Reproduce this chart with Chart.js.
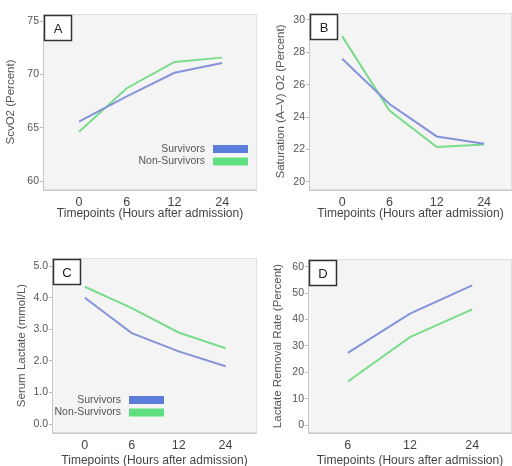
<!DOCTYPE html>
<html>
<head>
<meta charset="utf-8">
<script src="https://cdn.jsdelivr.net/npm/chart.js@4.4.0/dist/chart.umd.min.js"></script>
<style>
  body { margin: 0; background: #fff; }
  #wrap { position: relative; width: 512px; height: 466px; overflow: hidden; }
  canvas { position: absolute; }
</style>
</head>
<body>
<div id="wrap">
  <canvas id="panelA" style="left:0;top:0;width:257px;height:233px"></canvas>
  <canvas id="panelB" style="left:257px;top:0;width:255px;height:233px"></canvas>
  <canvas id="panelC" style="left:0;top:233px;width:257px;height:233px"></canvas>
  <canvas id="panelD" style="left:257px;top:233px;width:255px;height:233px"></canvas>
</div>
<script>
// Data
const seriesNames = ["Survivors", "Non-Survivors"];
const hoursABC = ["0", "6", "12", "24"];
const hoursD = ["6", "12", "24"];

const scvo2Survivors = [65.56, 67.93, 70.15, 71.07];
const scvo2NonSurvivors = [64.63, 68.7, 71.17, 71.57];

const satSurvivors = [27.6, 24.8, 22.8, 22.35];
const satNonSurvivors = [29.0, 24.4, 22.15, 22.3];

const lactateSurvivors = [4.0, 2.88, 2.3, 1.83];
const lactateNonSurvivors = [4.35, 3.67, 2.9, 2.4];

const removalSurvivors = [27.3, 42.2, 52.9];
const removalNonSurvivors = [16.5, 33.3, 43.8];

const ticksA = [60, 65, 70, 75];
const ticksB = [20, 22, 24, 26, 28, 30];
const ticksC = [0, 1, 2, 3, 4, 5];
const ticksD = [0, 10, 20, 30, 40, 50, 60];

const BLUE_LINE = "#8593d9";
const GREEN_LINE = "#79dc8c";
const BLUE_SWATCH = "#5b7ddb";
const GREEN_SWATCH = "#5fdf7f";
const FONT = "'Liberation Sans', Arial, sans-serif";

// Draws the grey plot background, the letter box and the in-plot legend
const panelDecor = {
  id: "panelDecor",
  beforeDraw(chart, args, opts) {
    const { ctx, chartArea: a } = chart;
    ctx.save();
    ctx.fillStyle = "#f4f4f4";
    ctx.fillRect(a.left, a.top, a.right - a.left, a.bottom - a.top);
    ctx.strokeStyle = "#e0e0e0";
    ctx.lineWidth = 1;
    ctx.strokeRect(a.left + 0.5, a.top + 0.5, a.right - a.left - 1, a.bottom - a.top - 1);
    ctx.restore();
  },
  afterDraw(chart, args, opts) {
    const { ctx, chartArea: a } = chart;
    ctx.save();
    // panel letter
    ctx.fillStyle = "#fff";
    ctx.fillRect(a.left + 1, a.top + 1, 28, 26);
    ctx.strokeStyle = "#333";
    ctx.lineWidth = 1.5;
    ctx.strokeRect(a.left + 1.5, a.top + 1.5, 27, 25);
    ctx.fillStyle = "#222";
    ctx.font = "13px " + FONT;
    ctx.textAlign = "center";
    ctx.textBaseline = "middle";
    ctx.fillText(opts.letter, a.left + 15, a.top + 15);

    // legend
    if (opts.legend) {
      const lg = opts.legend;
      ctx.font = "10.5px " + FONT;
      ctx.textAlign = "right";
      chart.data.datasets.forEach((ds, i) => {
        const cy = lg.y + i * 12.5;
        ctx.fillStyle = ds.swatch;
        ctx.fillRect(lg.x, cy - 4, 35, 8);
        ctx.fillStyle = "#555";
        ctx.fillText(ds.label, lg.x - 8, cy);
      });
    }
    ctx.restore();
  }
};

function makePanel(id, cfg) {
  const canvas = document.getElementById(id);
  canvas.width = parseInt(canvas.style.width);
  canvas.height = parseInt(canvas.style.height);

  const datasets = [
    { label: seriesNames[0], data: cfg.survivors, borderColor: BLUE_LINE, swatch: BLUE_SWATCH },
    { label: seriesNames[1], data: cfg.nonSurvivors, borderColor: GREEN_LINE, swatch: GREEN_SWATCH }
  ].map((ds) => ({
    ...ds,
    data: ds.data.map((v, i) => ({ x: i, y: v })),
    borderWidth: 2,
    pointRadius: 0,
    tension: 0,
    fill: false
  }));

  return new Chart(canvas.getContext("2d"), {
    type: "line",
    data: { datasets },
    options: {
      responsive: false,
      animation: false,
      layout: { padding: { top: cfg.padTop, left: 0, right: 0, bottom: 0 } },
      plugins: {
        legend: { display: false },
        tooltip: { enabled: false },
        panelDecor: { letter: cfg.letter, legend: cfg.legend }
      },
      scales: {
        x: {
          type: "linear",
          min: cfg.xMin,
          max: cfg.xMax,
          afterBuildTicks: (scale) => {
            scale.ticks = cfg.labels.map((l, i) => ({ value: i }));
          },
          afterFit: (scale) => { scale.height = cfg.xHeight; },
          ticks: {
            callback: (v) => cfg.labels[v],
            color: "#444",
            font: { size: 12.5, family: FONT },
            padding: 5,
            maxRotation: 0
          },
          grid: { display: false, drawTicks: false },
          border: { display: true, color: "#c8c8c8" },
          title: {
            display: true,
            text: "Timepoints (Hours after admission)",
            color: "#444",
            font: { size: 12, family: FONT },
            padding: { top: 0, bottom: cfg.xTitlePad }
          }
        },
        y: {
          min: cfg.yMin,
          max: cfg.yMax,
          afterBuildTicks: (scale) => {
            scale.ticks = cfg.yTicks.map((v) => ({ value: v }));
          },
          afterFit: (scale) => { scale.width = cfg.yWidth; },
          ticks: {
            callback: cfg.yFormat || ((v) => v),
            color: "#555",
            font: { size: 10.5, family: FONT },
            padding: 1
          },
          grid: { display: true, drawOnChartArea: false, drawTicks: true, tickLength: 3, color: "#bbb" },
          border: { display: true, color: "#c8c8c8" },
          title: {
            display: true,
            text: cfg.yTitle,
            color: "#555",
            font: { size: 11.5, family: FONT },
            padding: { top: cfg.yTitlePad, bottom: 0 }
          }
        }
      }
    },
    plugins: [panelDecor]
  });
}

makePanel("panelA", {
  letter: "A", labels: hoursABC, survivors: scvo2Survivors, nonSurvivors: scvo2NonSurvivors,
  yTitle: "ScvO2 (Percent)", yTicks: ticksA, yMin: 59.16, yMax: 75.66,
  xMin: -0.755, xMax: 3.73, padTop: 14, yWidth: 43, xHeight: 43,
  xTitlePad: 12, yTitlePad: 4,
  legend: { x: 213, y: 149 }
});

makePanel("panelB", {
  letter: "B", labels: hoursABC, survivors: satSurvivors, nonSurvivors: satNonSurvivors,
  yTitle: "Saturation (A\u2013V) O2 (Percent)", yTicks: ticksB, yMin: 19.49, yMax: 30.43,
  xMin: -0.7, xMax: 3.59, padTop: 13, yWidth: 52, xHeight: 43,
  xTitlePad: 12, yTitlePad: 17
});

makePanel("panelC", {
  letter: "C", labels: hoursABC, survivors: lactateSurvivors, nonSurvivors: lactateNonSurvivors,
  yTitle: "Serum Lactate (mmol/L)", yTicks: ticksC, yMin: -0.285, yMax: 5.26,
  yFormat: (v) => v.toFixed(1),
  xMin: -0.7, xMax: 3.67, padTop: 25, yWidth: 52, xHeight: 33,
  xTitlePad: -1.5, yTitlePad: 15,
  legend: { x: 129, y: 167 }
});

makePanel("panelD", {
  letter: "D", labels: hoursD, survivors: removalSurvivors, nonSurvivors: removalNonSurvivors,
  yTitle: "Lactate Removal Rate (Percent)", yTicks: ticksD, yMin: -3.03, yMax: 62.9,
  xMin: -0.64, xMax: 2.64, padTop: 26, yWidth: 51, xHeight: 33,
  xTitlePad: -2, yTitlePad: 14
});
</script>
</body>
</html>
